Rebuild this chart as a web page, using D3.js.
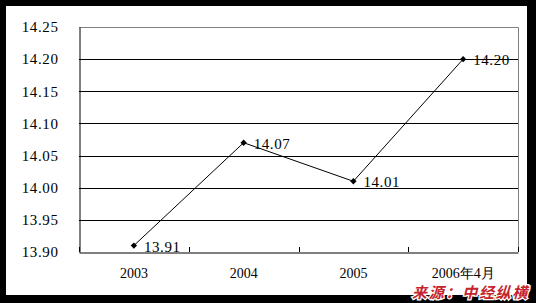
<!DOCTYPE html>
<html><head><meta charset="utf-8">
<script src="https://cdn.jsdelivr.net/npm/d3@7"></script>
<style>body{margin:0;background:#000;}svg{display:block;}</style>
</head><body>
<script>
const categories = ["2003", "2004", "2005", "2006年4月"];
const values = [13.91, 14.07, 14.01, 14.20];
const yTicks = [13.90, 13.95, 14.00, 14.05, 14.10, 14.15, 14.20, 14.25];
const sourceText = "来源：中经纵横";

(function () {
const W = 536, H = 303;
const svg = d3.select("body").append("svg").attr("width", W).attr("height", H);
svg.append("rect").attr("width", W).attr("height", H).attr("fill", "#000");
svg.append("rect").attr("x", 6).attr("y", 6).attr("width", 521).attr("height", 289).attr("fill", "#fff");

const pL = 79, pR = 518, pT = 27, pB = 252;
const x = d3.scaleBand().domain(categories).range([pL, pR]);
const y = d3.scaleLinear().domain([13.90, 14.25]).range([pB, pT]);
const serif = "'Liberation Serif','DejaVu Serif',serif";

// gridlines
svg.append("g").selectAll("line").data(yTicks.slice(1, -1)).join("line")
  .attr("x1", pL).attr("x2", pR)
  .attr("y1", d => Math.round(y(d)) + 0.5).attr("y2", d => Math.round(y(d)) + 0.5)
  .attr("stroke", "#000").attr("stroke-width", 1);
// top & right border gray
svg.append("path").attr("d", `M${pL},${pT+0.5}H${pR+0.5}V${pB}`)
  .attr("fill", "none").attr("stroke", "#808080");

// y axis
const yAxis = d3.axisLeft(y).tickValues(yTicks).tickSize(0).tickPadding(21).tickFormat(d3.format(".2f"));
const gy = svg.append("g").attr("transform", `translate(${pL+0.5},0)`).call(yAxis);
gy.select(".domain").attr("stroke", "#000");
gy.selectAll("text").attr("font-family", serif).attr("font-size", 15).attr("fill", "#000")
  .attr("letter-spacing", "0.6px");

// x axis
const xAxis = d3.axisBottom(x).tickSize(0).tickPadding(16);
const gx = svg.append("g").attr("transform", `translate(0,${pB+0.5})`).call(xAxis);
gx.select(".domain").attr("stroke", "#000");
gx.selectAll("text").attr("font-family", serif).attr("font-size", 14).attr("fill", "#000");
// boundary ticks pointing up
const bounds = categories.map(c => x(c)).concat([x(categories[categories.length-1]) + x.bandwidth()]);
svg.append("g").selectAll("line").data(bounds).join("line")
  .attr("x1", d => Math.round(d) + 0.5).attr("x2", d => Math.round(d) + 0.5)
  .attr("y1", pB).attr("y2", pB - 5).attr("stroke", "#000");

// line
const cx = (d, i) => x(categories[i]) + x.bandwidth() / 2;
const line = d3.line().x((d, i) => cx(d, i)).y(d => y(d));
svg.append("path").datum(values).attr("d", line).attr("fill", "none").attr("stroke", "#000").attr("stroke-width", 1);
svg.append("g").selectAll("path").data(values).join("path")
  .attr("d", d3.symbol(d3.symbolSquare, 20))
  .attr("transform", (d, i) => `translate(${cx(d, i)},${y(d)}) rotate(45)`).attr("fill", "#000");
svg.append("g").selectAll("text").data(values).join("text")
  .attr("x", (d, i) => cx(d, i) + 10).attr("y", d => y(d) + 6)
  .attr("font-family", serif).attr("font-size", 15).attr("letter-spacing", "0.6px").attr("fill", "#000")
  .text(d => d3.format(".2f")(d));

// source watermark
svg.append("text").attr("x", 529).attr("y", 297.5).attr("text-anchor", "end")
  .attr("font-family", "'Noto Sans CJK SC',sans-serif").attr("font-weight", "bold")
  .attr("font-style", "italic").attr("font-size", 15).attr("letter-spacing", "1.7px")
  .attr("fill", "#c4242c").attr("stroke", "#fff").attr("stroke-width", 2.5)
  .attr("paint-order", "stroke").text(sourceText);
})();
</script>
</body></html>
